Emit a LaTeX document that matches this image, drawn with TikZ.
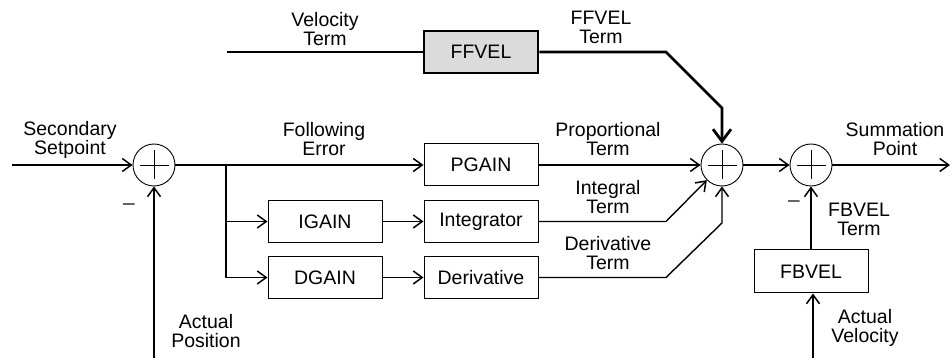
\documentclass[tikz,border=0pt]{standalone}
\usepackage{fontspec}
\setmainfont{Liberation Sans}
\usetikzlibrary{arrows.meta,calc}
\begin{document}
\begin{tikzpicture}[x=1pt,y=-1pt,
  every node/.style={font=\fontsize{19.5}{19}\selectfont},
  blk/.style={draw, line width=1pt, minimum width=114pt, minimum height=42pt, inner sep=0},
  thickblk/.style={draw, line width=2.6pt, fill=black!14, minimum width=114pt, minimum height=42pt, inner sep=0},
  sumc/.style={circle, draw, line width=0.9pt, minimum size=42pt, inner sep=0,
    path picture={\draw[line width=0.8pt]
      ([xshift=-14.5pt]path picture bounding box.center) -- ([xshift=14.5pt]path picture bounding box.center)
      ([yshift=-14.5pt]path picture bounding box.center) -- ([yshift=14.5pt]path picture bounding box.center);}},
  lbl/.style={align=center, inner sep=0},
  wire/.style={line width=1.4pt},
  sig/.style={line width=1.4pt, -{Straight Barb[length=9pt,width=13pt,line width=1.5pt]}},
  thicksig/.style={line width=2.8pt, -{Straight Barb[length=12pt,width=18pt,line width=2.8pt]}},
  thickwire/.style={line width=2.8pt}
]
\useasboundingbox (0,0) rectangle (951,358);

% summing junctions
\node[sumc] (s1) at (154,165) {};
\node[sumc] (s2) at (722,165) {};
\node[sumc] (s3) at (811,165) {};

% blocks
\node[blk] (pgain) at (481,165) {PGAIN};
\node[blk] (igain) at (325,221.5) {IGAIN};
\node[blk] (dgain) at (325,277.5) {DGAIN};
\node[blk] (integ) at (481,221.5) {Integrator};
\node[blk] (deriv) at (481,277.5) {Derivative};
\node[thickblk] (ffvel) at (481,52) {FFVEL};
\node[blk, minimum height=43pt] (fbvel) at (811,271.5) {FBVEL};

% coordinates
\coordinate (in) at (12,165);
\coordinate (out) at (950,165);
\coordinate (vin) at (227,52);
\coordinate (apos) at (154,358);
\coordinate (avel) at (813,358);
\coordinate (br) at (226,165);
\coordinate (kF1) at (666,52);
\coordinate (kF2) at (722,108);
\coordinate (kI) at (666,221.5);
\coordinate (kD1) at (666,277.5);
\coordinate (kD2) at (722,223);

% connectors
\draw[sig] (in) -- (s1.west);
\draw[sig] (apos) -- (s1.south);
\draw[sig] (s1.east) -- (pgain.west);
\draw[sig] (br) |- (igain.west);
\draw[sig] (br) |- (dgain.west);
\draw[sig] (igain.east) -- (integ.west);
\draw[sig] (dgain.east) -- (deriv.west);
\draw[sig] (pgain.east) -- (s2.west);
\draw[sig] (integ.east) -- (kI) -- (s2.225);
\draw[sig] (deriv.east) -- (kD1) -- (kD2) -- (s2.south);
\draw[thickwire] (vin) -- (ffvel.west);
\draw[thicksig] (ffvel.east) -- (kF1) -- (kF2) -- (s2.north);
\draw[sig] (s2.east) -- (s3.west);
\draw[sig] (s3.east) -- (out);
\draw[sig] (fbvel.north) -- (s3.south);
\draw[sig] (avel) -- (fbvel.south -| avel);

% labels
\node[lbl] (l1) at (70,140) {Secondary\\Setpoint};
\node[lbl] (l2) at (206,331) {Actual\\Position};
\node[lbl] (l3) at (325,29) {Velocity\\Term};
\node[lbl] (l4) at (601,27.5) {FFVEL\\Term};
\node[lbl] (l5) at (324,139) {Following\\Error};
\node[lbl] (l6) at (608,139.5) {Proportional\\Term};
\node[lbl] (l7) at (608,197) {Integral\\Term};
\node[lbl] (l8) at (608,253) {Derivative\\Term};
\node[lbl] (l9) at (895,139.5) {Summation\\Point};
\node[lbl] (l10) at (859,219) {FBVEL\\Term};
\node[lbl] (l11) at (865,327.5) {Actual\\Velocity};
\node[lbl, font=\fontsize{24}{24}\selectfont, text=black!70] (m1) at (129,208) {−};
\node[lbl, font=\fontsize{24}{24}\selectfont, text=black!70] (m2) at (794,205) {−};
\end{tikzpicture}
\end{document}
